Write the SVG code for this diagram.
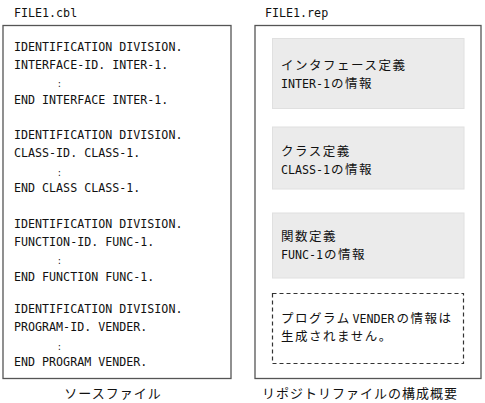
<svg xmlns="http://www.w3.org/2000/svg" width="485" height="403" viewBox="0 0 485 403">
<style>
.frame{fill:#fff;stroke:#555;stroke-width:1.3}
.info{fill:#ebebeb;stroke:#e0e0e0;stroke-width:1}
.dash{fill:#fff;stroke:#333;stroke-width:1.2;stroke-dasharray:4 3}
.code{font-family:"DejaVu Sans Mono","Liberation Mono",monospace;font-size:11.67px;fill:#111}
.dots{font-family:"DejaVu Sans Mono","Liberation Mono",monospace;font-size:8px;fill:#111}
.jp{font-family:"Noto Sans CJK JP",sans-serif;font-size:12.5px;letter-spacing:1.5px;fill:#111}
.lat{font-family:"DejaVu Sans Mono","Liberation Mono",monospace;font-size:11.67px;fill:#111}
.cap{font-family:"Noto Sans CJK JP",sans-serif;font-size:13px;letter-spacing:1px;fill:#111}
</style>
<rect width="485" height="403" fill="#fff"/>
<g id="source-file">
<text class="code" x="14" y="17">FILE1.cbl</text>
<rect class="frame" x="3" y="25.5" width="228" height="353"/>
<text class="code" x="14" y="50.5">IDENTIFICATION DIVISION.</text>
<text class="code" x="14" y="68.5">INTERFACE-ID. INTER-1.</text>
<text class="dots" x="57" y="87">:</text>
<text class="code" x="14" y="103.5">END INTERFACE INTER-1.</text>
<text class="code" x="14" y="139">IDENTIFICATION DIVISION.</text>
<text class="code" x="14" y="157">CLASS-ID. CLASS-1.</text>
<text class="dots" x="57" y="175.5">:</text>
<text class="code" x="14" y="192">END CLASS CLASS-1.</text>
<text class="code" x="14" y="227.5">IDENTIFICATION DIVISION.</text>
<text class="code" x="14" y="245.5">FUNCTION-ID. FUNC-1.</text>
<text class="dots" x="57" y="264">:</text>
<text class="code" x="14" y="280.5">END FUNCTION FUNC-1.</text>
<text class="code" x="14" y="313">IDENTIFICATION DIVISION.</text>
<text class="code" x="14" y="331">PROGRAM-ID. VENDER.</text>
<text class="dots" x="57" y="349.5">:</text>
<text class="code" x="14" y="366">END PROGRAM VENDER.</text>
<text class="cap" x="113" y="398" text-anchor="middle">ソースファイル</text>
</g>
<g id="repository-file">
<text class="code" x="265" y="17">FILE1.rep</text>
<rect class="frame" x="255" y="25.5" width="226" height="353"/>
<text class="cap" x="262" y="398">リポジトリファイルの構成概要</text>
</g>
<g id="interface-info">
<rect class="info" x="272.5" y="38.5" width="191.5" height="70"/>
<text class="jp" x="281" y="70">インタフェース定義</text>
<text class="lat" x="281" y="87.5">INTER-1</text>
<text class="jp" x="331" y="87.5">の情報</text>
</g>
<g id="class-info">
<rect class="info" x="272.5" y="127" width="191.5" height="62"/>
<text class="jp" x="281" y="156">クラス定義</text>
<text class="lat" x="281" y="173.5">CLASS-1</text>
<text class="jp" x="331" y="173.5">の情報</text>
</g>
<g id="function-info">
<rect class="info" x="272.5" y="213" width="191.5" height="65"/>
<text class="jp" x="281" y="241">関数定義</text>
<text class="lat" x="281" y="258.5">FUNC-1</text>
<text class="jp" x="324" y="258.5">の情報</text>
</g>
<g id="program-info">
<rect class="dash" x="272.5" y="293.5" width="191" height="70"/>
<text class="jp" x="281" y="323">プログラム</text>
<text class="lat" x="352.5" y="323">VENDER</text>
<text class="jp" x="396.5" y="323">の情報は</text>
<text class="jp" x="281" y="340.5">生成されません。</text>
</g>
<g id="connectors"></g>
</svg>
